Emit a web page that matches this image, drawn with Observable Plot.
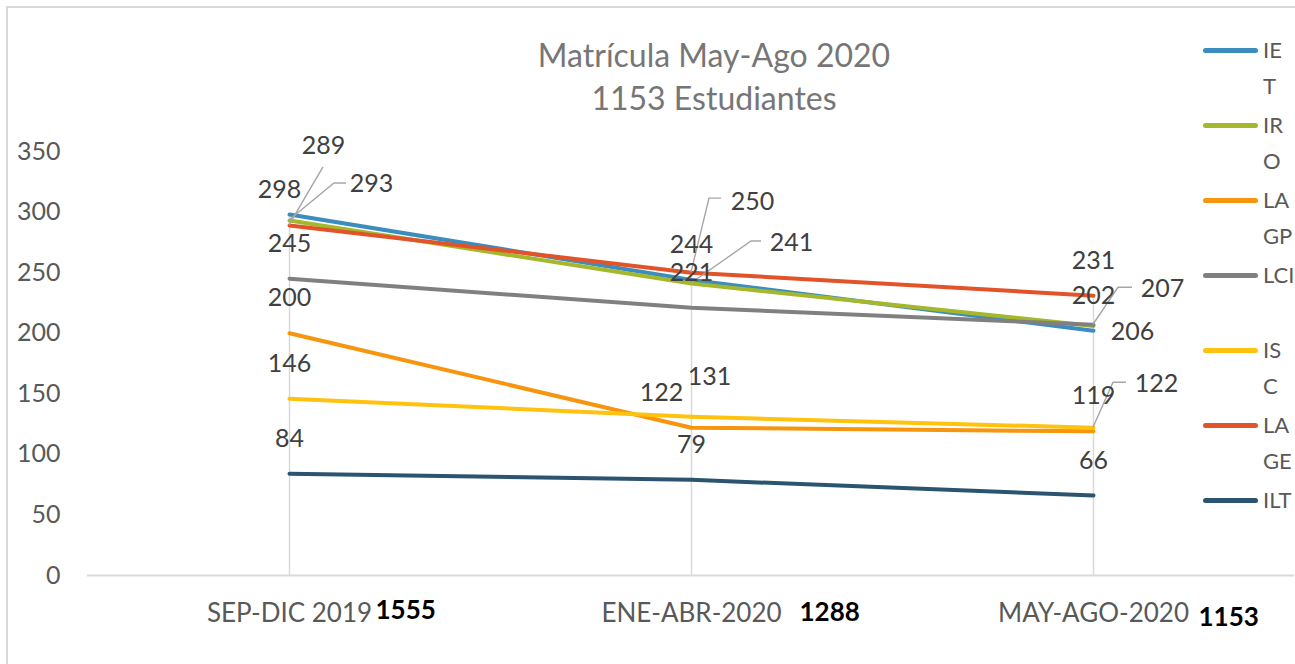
<!DOCTYPE html>
<html>
<head>
<meta charset="utf-8">
<script src="https://cdn.jsdelivr.net/npm/d3@7"></script>
<script src="https://cdn.jsdelivr.net/npm/@observablehq/plot@0.6"></script>
<style>
  html, body { margin: 0; padding: 0; background: #fff; overflow: hidden; }
  #wrap { position: relative; width: 1295px; height: 664px; font-family: Lato, "Noto Sans", sans-serif; }
  #frame { position: absolute; left: 6px; top: 6px; width: 1400px; height: 800px;
           border-left: 2px solid #d9d9d9; border-top: 2px solid #d9d9d9; box-sizing: border-box; }
  #chart { position: absolute; left: 0; top: 0; }
  #title { position: absolute; left: 414px; width: 600px; top: 33px; text-align: center;
           font-size: 32px; line-height: 43px; color: #767676; }
  .leg { position: absolute; left: 1203px; }
  .leg .sw { position: absolute; left: 0; top: 16px; width: 55px; height: 5px; border-radius: 3px; }
  .leg .tx { position: absolute; left: 60px; top: 0; font-size: 22px; line-height: 36px; color: #595959; white-space: pre; }
</style>
</head>
<body>
<div id="wrap">
  <div id="frame"></div>
  <div id="chart"></div>
  <div id="title">Matrícula May-Ago 2020<br>1153 Estudiantes</div>
  <div id="legend"></div>
</div>
<script>
// ---------------- data ----------------
const categories = ["SEP-DIC 2019", "ENE-ABR-2020", "MAY-AGO-2020"];
const seriesNames = ["IET", "IRO", "LAGP", "LCI", "ISC", "LAGE", "ILT"];
const legendLabels = ["IE\nT", "IR\nO", "LA\nGP", "LCI", "IS\nC", "LA\nGE", "ILT"];
const IET  = [298, 244, 202];
const IRO  = [293, 241, 206];
const LAGP = [200, 122, 119];
const LCI  = [245, 221, 207];
const ISC  = [146, 131, 122];
const LAGE = [289, 250, 231];
const ILT  = [84, 79, 66];
const yTicks = [0, 50, 100, 150, 200, 250, 300, 350];
const seriesColors = ["#3b8dbd", "#a5b82c", "#f7950e", "#808080", "#ffc20e", "#e2532a", "#2a5470"];

const seriesValues = [IET, IRO, LAGP, LCI, ISC, LAGE, ILT];
const rows = [];
seriesNames.forEach((s, si) => categories.forEach((c, ci) => rows.push({series: s, cat: c, value: seriesValues[si][ci]})));
const totals = categories.map((c, ci) => ({cat: c, total: d3.sum(seriesValues, v => v[ci])}));
const drops = categories.map((c, ci) => ({cat: c, max: d3.max(seriesValues, v => v[ci])}));

// ---------------- label placement (layout, pixels) ----------------
const defaultPlace = {dx: 0, dy: -35};
const placement = {
  "IET|SEP-DIC 2019": {dx: -10, dy: -24},
  "IRO|SEP-DIC 2019": {dx: 82, dy: -37, leader: [[45, -37], [57, -37]]},
  "LAGE|SEP-DIC 2019": {dx: 34, dy: -79, leader: [[34, -58]]},
  "LAGE|ENE-ABR-2020": {dx: 61, dy: -71, leader: [[18, -74], [30, -74]]},
  "IRO|ENE-ABR-2020": {dx: 100, dy: -41, leader: [[60, -42], [70, -42]]},
  "LAGP|ENE-ABR-2020": {dx: -30, dy: -35},
  "ISC|ENE-ABR-2020": {dx: 18, dy: -40},
  "LCI|MAY-AGO-2020": {dx: 69, dy: -36, leader: [[25, -37], [39, -37]]},
  "IRO|MAY-AGO-2020": {dx: 39, dy: 6},
  "ISC|MAY-AGO-2020": {dx: 63, dy: -44, leader: [[20, -45], [33, -45]]}
};
const place = r => placement[r.series + "|" + r.cat] || defaultPlace;
const totalPlace = [{dx: 86, dy: 35}, {dx: 108, dy: 37}, {dx: 105, dy: 42}];

const leaderMark = (index, scales) => {
  const g = d3.create("svg:g").attr("fill", "none").attr("stroke", "#a6a6a6").attr("stroke-width", 1.4);
  rows.forEach(r => {
    const p = place(r);
    if (!p.leader) return;
    const px = scales.x(r.cat), py = scales.y(r.value);
    const pts = [[px, py], ...p.leader.map(([a, b]) => [px + a, py + b])];
    g.append("path").attr("d", d3.line()(pts));
  });
  return g.node();
};

const labelMarks = rows.map(r => {
  const p = place(r);
  return Plot.text([r], {x: "cat", y: "value", text: d => String(d.value), dx: p.dx, dy: p.dy,
    fontSize: 25, fill: "#404040", lineAnchor: "middle"});
});
const totalMarks = totals.map((t, i) => Plot.text([t], {x: "cat", frameAnchor: "bottom", text: d => String(d.total),
  dx: totalPlace[i].dx, dy: totalPlace[i].dy, textAnchor: "start", lineAnchor: "middle",
  fontSize: 26, fontWeight: "bold", fill: "#000", ariaLabel: "total" + i}));

const plot = Plot.plot({
  width: 1295, height: 664,
  marginLeft: 87, marginRight: 1, marginTop: 151, marginBottom: 89,
  style: {fontFamily: "Lato, 'Noto Sans', sans-serif", background: "transparent", overflow: "visible"},
  x: {type: "point", domain: categories, padding: 0.5, label: null},
  y: {domain: [0, 350], label: null},
  color: {domain: seriesNames, range: seriesColors},
  marks: [
    Plot.ruleX(drops, {x: "cat", y1: 0, y2: "max", stroke: "#d9d9d9", strokeWidth: 1.5}),
    Plot.ruleY([0], {stroke: "#d9d9d9", strokeWidth: 2}),
    Plot.axisY({ticks: yTicks, tickSize: 0, tickPadding: 27, fontSize: 25, color: "#595959", label: null}),
    Plot.axisX({tickSize: 0, tickPadding: 28, fontSize: 26, color: "#595959", label: null}),
    Plot.line(rows, {x: "cat", y: "value", z: "series", stroke: "series", strokeWidth: 4, strokeLinecap: "round", strokeLinejoin: "round"}),
    leaderMark,
    ...labelMarks,
    ...totalMarks
  ]
});
document.getElementById("chart").appendChild(plot);

// clip the lower part of the first total, as in the original picture
const svg = d3.select(plot);
const cp = svg.append("defs").append("clipPath").attr("id", "clipTotal0").attr("clipPathUnits", "objectBoundingBox");
cp.append("rect").attr("x", -0.1).attr("y", -0.1).attr("width", 1.2).attr("height", 0.72);
svg.selectAll('[aria-label="total0"] text').attr("clip-path", "url(#clipTotal0)");

// legend
const legend = d3.select("#legend");
seriesNames.forEach((s, i) => {
  const item = legend.append("div").attr("class", "leg").style("top", (32 + i * 75) + "px");
  item.append("div").attr("class", "sw").style("background", seriesColors[i]);
  item.append("div").attr("class", "tx").text(legendLabels[i]);
});
</script>
</body>
</html>
